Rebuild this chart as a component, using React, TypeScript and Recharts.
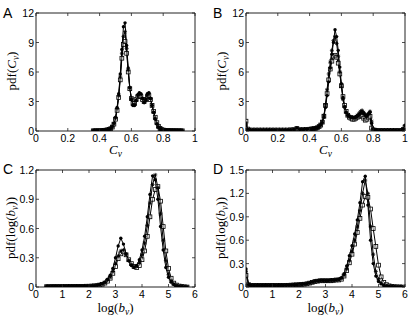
import React from "react";
import { LineChart, Line, XAxis, YAxis } from "recharts";

// Panel A: pdf of C_v
const aX = [
  0.36, 0.37, 0.38, 0.39, 0.4, 0.41, 0.42, 0.43, 0.44, 0.45,
  0.46, 0.47, 0.48, 0.49, 0.5, 0.51, 0.52, 0.53, 0.54, 0.55,
  0.56, 0.57, 0.58, 0.59, 0.6, 0.61, 0.62, 0.63, 0.64, 0.65,
  0.66, 0.67, 0.68, 0.69, 0.7, 0.71, 0.72, 0.73, 0.74, 0.75,
  0.76, 0.77, 0.78, 0.79, 0.8, 0.81, 0.82, 0.83, 0.84, 0.85,
  0.86, 0.87, 0.88, 0.89, 0.9, 0.91, 0.92,
];
const aDots = [
  0.02, 0.02, 0.03, 0.03, 0.04, 0.05, 0.06, 0.08, 0.1, 0.13,
  0.18, 0.27, 0.45, 0.8, 1.4, 2.4, 3.8, 5.8, 8.3, 10.6,
  11.0, 8.7, 6.4, 4.4, 3.2, 2.6, 2.6, 3.1, 3.7, 3.9,
  3.8, 3.3, 2.9, 3.2, 3.8, 3.9, 3.3, 2.6, 1.9, 1.2,
  0.7, 0.38, 0.2, 0.12, 0.08, 0.06, 0.05, 0.04, 0.04, 0.03,
  0.03, 0.03, 0.02, 0.02, 0.02, 0.02, 0.02,
];
const aStars = [
  0.02, 0.02, 0.02, 0.03, 0.04, 0.04, 0.05, 0.07, 0.09, 0.12,
  0.17, 0.26, 0.42, 0.75, 1.3, 2.3, 3.6, 5.5, 7.9, 9.6,
  10.1, 8.4, 6.2, 4.4, 3.3, 2.7, 2.7, 3.1, 3.6, 3.8,
  3.7, 3.3, 2.9, 3.1, 3.6, 3.8, 3.3, 2.6, 1.9, 1.3,
  0.78, 0.42, 0.22, 0.13, 0.09, 0.06, 0.05, 0.04, 0.04, 0.03,
  0.03, 0.03, 0.02, 0.02, 0.02, 0.02, 0.02,
];
const aSquares = [
  0.02, 0.02, 0.02, 0.03, 0.03, 0.04, 0.05, 0.07, 0.09, 0.12,
  0.16, 0.24, 0.4, 0.7, 1.2, 2.1, 3.4, 5.2, 7.4, 8.8,
  9.1, 7.9, 6.0, 4.3, 3.3, 2.8, 2.8, 3.2, 3.5, 3.6,
  3.5, 3.2, 3.0, 3.2, 3.5, 3.6, 3.2, 2.6, 2.0, 1.4,
  0.85, 0.48, 0.26, 0.15, 0.1, 0.07, 0.05, 0.05, 0.04, 0.04,
  0.03, 0.03, 0.03, 0.02, 0.02, 0.02, 0.02,
];

// Panel B: pdf of C_v
const bX = [
  0, 0.01, 0.02, 0.04, 0.06, 0.08, 0.1, 0.12, 0.14, 0.16, 0.18,
  0.2, 0.22, 0.24, 0.26, 0.28, 0.3, 0.32, 0.34, 0.36, 0.38, 0.4,
  0.41, 0.42, 0.43, 0.44, 0.45, 0.46, 0.47, 0.48, 0.49, 0.5,
  0.51, 0.52, 0.53, 0.54, 0.55, 0.56, 0.57, 0.58, 0.59, 0.6,
  0.61, 0.62, 0.63, 0.64, 0.65, 0.66, 0.67, 0.68, 0.69, 0.7,
  0.71, 0.72, 0.73, 0.74, 0.75, 0.76, 0.77, 0.78, 0.79, 0.8,
  0.81, 0.82,
  0.84, 0.86, 0.88, 0.9, 0.92, 0.94, 0.96, 0.98, 0.99, 1.0,
];
const bDots = [
  0.6, 0.15, 0.1, 0.1, 0.1, 0.1, 0.1, 0.1, 0.1, 0.1, 0.1,
  0.1, 0.1, 0.1, 0.1, 0.12, 0.15, 0.3, 0.15, 0.15, 0.18, 0.2,
  0.2, 0.22, 0.25, 0.3, 0.35, 0.45, 0.6, 0.85, 1.4, 2.4,
  3.6, 5.0, 6.4, 7.8, 9.0, 10.3, 9.6, 8.2, 6.5, 4.8,
  3.4, 2.5, 1.9, 1.6, 1.5, 1.4, 1.4, 1.35, 1.4, 1.5,
  1.6, 1.8, 1.9, 1.8, 1.6, 1.5, 1.7, 1.9, 0.8, 0.2,
  0.1, 0.08,
  0.06, 0.06, 0.06, 0.06, 0.06, 0.06, 0.06, 0.08, 0.2, 0.6,
];
const bStars = [
  0.8, 0.18, 0.1, 0.1, 0.1, 0.1, 0.1, 0.1, 0.1, 0.1, 0.1,
  0.1, 0.1, 0.1, 0.1, 0.12, 0.14, 0.28, 0.14, 0.15, 0.17, 0.19,
  0.21, 0.24, 0.27, 0.31, 0.37, 0.5, 0.7, 1.0, 1.6, 2.7,
  4.2, 5.8, 7.0, 8.2, 9.2, 9.6, 8.9, 7.6, 6.0, 4.5,
  3.2, 2.4, 1.9, 1.6, 1.5, 1.4, 1.4, 1.4, 1.4, 1.6,
  1.8, 2.0, 2.1, 1.9, 1.7, 1.6, 1.8, 2.0, 1.0, 0.2,
  0.1, 0.08,
  0.06, 0.06, 0.06, 0.06, 0.06, 0.06, 0.06, 0.08, 0.18, 0.5,
];
const bSquares = [
  1.0, 0.2, 0.1, 0.1, 0.1, 0.1, 0.1, 0.1, 0.1, 0.1, 0.1,
  0.1, 0.1, 0.1, 0.1, 0.12, 0.14, 0.25, 0.14, 0.14, 0.16, 0.18,
  0.2, 0.22, 0.24, 0.28, 0.34, 0.45, 0.6, 0.9, 1.5, 2.6,
  3.8, 5.2, 6.3, 7.1, 7.6, 7.7, 7.5, 6.9, 5.8, 4.6,
  3.5, 2.6, 2.0, 1.6, 1.4, 1.3, 1.2, 1.2, 1.3, 1.4,
  1.5, 1.6, 1.5, 1.3, 1.1, 1.2, 1.4, 1.5, 0.3, 0.1,
  0.08, 0.07,
  0.06, 0.06, 0.06, 0.06, 0.06, 0.06, 0.06, 0.07, 0.15, 0.4,
];

// Panel C: pdf of log(b_v)
const cX = [
  0.4, 0.5, 0.6, 0.7, 0.8, 0.9, 1.0, 1.1, 1.2, 1.3,
  1.4, 1.5, 1.6, 1.7, 1.8, 1.9, 2.0, 2.1, 2.2,
  2.3, 2.4, 2.5, 2.6, 2.7, 2.8, 2.9, 3.0, 3.1, 3.2,
  3.3, 3.4, 3.5, 3.6, 3.7, 3.8, 3.9, 4.0, 4.1, 4.2,
  4.3, 4.4, 4.5, 4.6, 4.7, 4.8, 4.9, 5.0, 5.1, 5.2,
  5.3, 5.4, 5.5, 5.6, 5.7,
];
const cDots = [
  0.005, 0.005, 0.005, 0.005, 0.005, 0.006, 0.006, 0.006, 0.006, 0.006,
  0.007, 0.007, 0.007, 0.008, 0.008, 0.009, 0.01, 0.012, 0.014,
  0.018, 0.025, 0.035, 0.05, 0.08, 0.12, 0.19, 0.3, 0.42, 0.5,
  0.44, 0.34, 0.27, 0.22, 0.2, 0.22, 0.28, 0.38, 0.52, 0.72,
  0.95, 1.14, 1.1, 0.9, 0.62, 0.38, 0.2, 0.1, 0.05, 0.025,
  0.012, 0.006, 0.003, 0.001, 0,
];
const cStars = [
  0.005, 0.005, 0.005, 0.005, 0.005, 0.005, 0.006, 0.006, 0.006, 0.006,
  0.006, 0.007, 0.007, 0.007, 0.008, 0.008, 0.009, 0.011, 0.013,
  0.016, 0.022, 0.03, 0.045, 0.07, 0.1, 0.16, 0.24, 0.32, 0.37,
  0.38, 0.33, 0.27, 0.23, 0.21, 0.21, 0.25, 0.33, 0.45, 0.63,
  0.86, 1.05, 1.15, 1.02, 0.75, 0.48, 0.27, 0.13, 0.06, 0.03,
  0.015, 0.008, 0.004, 0.002, 0,
];
const cSquares = [
  0.004, 0.004, 0.005, 0.005, 0.005, 0.005, 0.005, 0.006, 0.006, 0.006,
  0.006, 0.006, 0.007, 0.007, 0.007, 0.008, 0.008, 0.01, 0.012,
  0.014, 0.02, 0.028, 0.04, 0.06, 0.09, 0.14, 0.21, 0.29, 0.34,
  0.36, 0.33, 0.28, 0.24, 0.21, 0.2, 0.22, 0.28, 0.37, 0.52,
  0.72, 0.9, 1.0, 1.03, 0.88, 0.62, 0.37, 0.19, 0.09, 0.04,
  0.02, 0.01, 0.005, 0.002, 0,
];

// Panel D: pdf of log(b_v)
const dX = [
  0, 0.1, 0.2, 0.3, 0.4, 0.5, 0.6, 0.7, 0.8, 0.9,
  1.0, 1.1, 1.2, 1.3, 1.4, 1.5, 1.6, 1.7, 1.8, 1.9,
  2.0, 2.1, 2.2, 2.3, 2.4, 2.5, 2.6, 2.7, 2.8, 2.9,
  3.0, 3.1, 3.2, 3.3, 3.4, 3.5, 3.6, 3.7, 3.8, 3.9,
  4.0, 4.1, 4.2, 4.3, 4.4, 4.5, 4.6, 4.7, 4.8, 4.9,
  5.0, 5.1, 5.2, 5.3, 5.4, 5.5, 5.6, 5.7, 5.8, 5.9,
];
const dDots = [
  0.23, 0.03, 0.02, 0.02, 0.02, 0.02, 0.02, 0.02, 0.02, 0.02,
  0.02, 0.02, 0.02, 0.02, 0.02, 0.022, 0.024, 0.026, 0.028, 0.03,
  0.032, 0.035, 0.04, 0.045, 0.055, 0.065, 0.075, 0.08, 0.085, 0.085,
  0.085, 0.085, 0.09, 0.09, 0.095, 0.1, 0.12, 0.17, 0.27, 0.4,
  0.53, 0.68, 0.86, 1.08, 1.35, 1.42, 1.05, 0.6, 0.3, 0.14,
  0.07, 0.04, 0.02, 0.012, 0.008, 0.005, 0.003, 0.002, 0.001, 0,
];
const dStars = [
  0.2, 0.03, 0.02, 0.02, 0.02, 0.02, 0.02, 0.02, 0.02, 0.02,
  0.02, 0.02, 0.02, 0.02, 0.02, 0.021, 0.023, 0.025, 0.027, 0.029,
  0.031, 0.034, 0.038, 0.043, 0.052, 0.062, 0.072, 0.078, 0.082, 0.082,
  0.08, 0.08, 0.085, 0.085, 0.09, 0.095, 0.11, 0.15, 0.23, 0.34,
  0.46, 0.6, 0.77, 0.98, 1.2, 1.37, 1.2, 0.78, 0.42, 0.2,
  0.1, 0.05, 0.025, 0.014, 0.008, 0.005, 0.003, 0.002, 0.001, 0,
];
const dSquares = [
  0.15, 0.03, 0.02, 0.02, 0.02, 0.02, 0.02, 0.02, 0.02, 0.02,
  0.02, 0.02, 0.02, 0.02, 0.02, 0.02, 0.022, 0.024, 0.026, 0.028,
  0.03, 0.033, 0.036, 0.041, 0.05, 0.06, 0.07, 0.075, 0.08, 0.08,
  0.08, 0.08, 0.08, 0.085, 0.09, 0.09, 0.1, 0.14, 0.21, 0.31,
  0.42, 0.55, 0.7, 0.88, 1.05, 1.16, 1.15, 1.0, 0.75, 0.52,
  0.28, 0.13, 0.06, 0.03, 0.015, 0.008, 0.004, 0.002, 0.001, 0,
];

const cvTicks = [0, 0.2, 0.4, 0.6, 0.8, 1];
const cvYTicks = [0, 3, 6, 9, 12];
const logTicks = [0, 1, 2, 3, 4, 5, 6];
const cYTicks = [0, 0.3, 0.6, 0.9, 1.2];
const dYTicks = [0, 0.3, 0.6, 0.9, 1.2, 1.5];

const zip = (x: number[], a: number[], b: number[], c: number[]) =>
  x.map((v, i) => ({ x: v, s1: a[i], s2: b[i], s3: c[i] }));

const TICK_FONT = "'Liberation Sans', Arial, sans-serif";
const TITLE_FONT = "'Liberation Serif', 'Times New Roman', serif";
const AXIS = "#222";

const BottomTick = ({ x, y, payload }: any) => (
  <g>
    <line x1={x} y1={y} x2={x} y2={y - 3} stroke={AXIS} strokeWidth={0.8} />
    <text x={x} y={y + 11} textAnchor="middle" fontSize={10.5} fontFamily={TICK_FONT} fill="#000">
      {String(payload.value)}
    </text>
  </g>
);
const LeftTick = ({ x, y, payload }: any) => (
  <g>
    <line x1={x} y1={y} x2={x + 3} y2={y} stroke={AXIS} strokeWidth={0.8} />
    <text x={x - 2} y={y + 4} textAnchor="end" fontSize={10.5} fontFamily={TICK_FONT} fill="#000">
      {String(payload.value)}
    </text>
  </g>
);
const TopTick = ({ x, y }: any) => (
  <line x1={x} y1={y} x2={x} y2={y + 3} stroke={AXIS} strokeWidth={0.8} />
);
const RightTick = ({ x, y }: any) => (
  <line x1={x} y1={y} x2={x - 3} y2={y} stroke={AXIS} strokeWidth={0.8} />
);

const dotMark = (p: any) => (
  <circle key={p.index} cx={p.cx} cy={p.cy} r={1.7} fill="#000" />
);
const starMark = (p: any) => (
  <g key={p.index} stroke="#000" strokeWidth={0.8}>
    <line x1={p.cx - 2} y1={p.cy} x2={p.cx + 2} y2={p.cy} />
    <line x1={p.cx} y1={p.cy - 2} x2={p.cx} y2={p.cy + 2} />
    <line x1={p.cx - 1.4} y1={p.cy - 1.4} x2={p.cx + 1.4} y2={p.cy + 1.4} />
    <line x1={p.cx - 1.4} y1={p.cy + 1.4} x2={p.cx + 1.4} y2={p.cy - 1.4} />
  </g>
);
const squareMark = (p: any) => (
  <rect key={p.index} x={p.cx - 1.9} y={p.cy - 1.9} width={3.8} height={3.8} fill="#fff" fillOpacity={0.4} stroke="#000" strokeWidth={0.8} />
);

type PanelProps = {
  data: any[];
  xDomain: number[];
  xTicks: number[];
  yDomain: number[];
  yTicks: number[];
  left: number;
  top: number;
  margin: { top: number; right: number; bottom: number; left: number };
};

// axes get a 1px size: a zero-sized axis is not drawn at all
const Panel = ({ data, xDomain, xTicks, yDomain, yTicks, left, top, margin }: PanelProps) => (
  <div style={{ position: "absolute", left, top }}>
    <LineChart width={205} height={158} data={data} margin={margin}>
      <XAxis dataKey="x" type="number" domain={xDomain} ticks={xTicks} interval={0} height={1}
        tickSize={0} tickMargin={0} tickLine={false} axisLine={{ stroke: AXIS }} tick={<BottomTick />} allowDataOverflow />
      <XAxis xAxisId="top" orientation="top" dataKey="x" type="number" domain={xDomain} ticks={xTicks} interval={0} height={1}
        tickSize={0} tickMargin={0} tickLine={false} axisLine={{ stroke: AXIS }} tick={<TopTick />} allowDataOverflow />
      <YAxis type="number" domain={yDomain} ticks={yTicks} interval={0} width={1}
        tickSize={0} tickMargin={0} tickLine={false} axisLine={{ stroke: AXIS }} tick={<LeftTick />} allowDataOverflow />
      <YAxis yAxisId="right" orientation="right" type="number" domain={yDomain} ticks={yTicks} interval={0} width={1}
        tickSize={0} tickMargin={0} tickLine={false} axisLine={{ stroke: AXIS }} tick={<RightTick />} allowDataOverflow />
      <Line dataKey="s3" type="linear" stroke="#000" strokeWidth={1} dot={squareMark} isAnimationActive={false} />
      <Line dataKey="s2" type="linear" stroke="#000" strokeWidth={1} dot={starMark} isAnimationActive={false} />
      <Line dataKey="s1" type="linear" stroke="#000" strokeWidth={1} dot={dotMark} isAnimationActive={false} />
    </LineChart>
  </div>
);

const Sub = ({ v }: { v: string }) => (
  <tspan fontStyle="italic" fontSize={9.5} dy={3}>{v}</tspan>
);

const App = () => {
  const topMargin = { top: 12, right: 9, bottom: 26, left: 35 };
  const botMargin = { top: 11, right: 9, bottom: 28, left: 35 };
  return (
    <div style={{ position: "absolute", left: 0, top: 0, width: 415, height: 316, background: "#fff" }}>
      <Panel data={zip(aX, aDots, aStars, aSquares)} xDomain={[0, 1]} xTicks={cvTicks}
        yDomain={[0, 12]} yTicks={cvYTicks} left={0} top={0} margin={topMargin} />
      <Panel data={zip(bX, bDots, bStars, bSquares)} xDomain={[0, 1]} xTicks={cvTicks}
        yDomain={[0, 12]} yTicks={cvYTicks} left={210} top={0} margin={topMargin} />
      <Panel data={zip(cX, cDots, cStars, cSquares)} xDomain={[0, 6]} xTicks={logTicks}
        yDomain={[0, 1.2]} yTicks={cYTicks} left={0} top={158} margin={botMargin} />
      <Panel data={zip(dX, dDots, dStars, dSquares)} xDomain={[0, 6]} xTicks={logTicks}
        yDomain={[0, 1.5]} yTicks={dYTicks} left={210} top={158} margin={botMargin} />
      <svg width={415} height={316} style={{ position: "absolute", left: 0, top: 0, pointerEvents: "none" }}>
        <g fontFamily={TICK_FONT} fontSize={14} fill="#000">
          <text x={3} y={18}>A</text>
          <text x={213} y={18}>B</text>
          <text x={3} y={174}>C</text>
          <text x={213} y={174}>D</text>
        </g>
        <g fontFamily={TITLE_FONT} fontSize={13} fill="#000">
          <text x={115.5} y={154} textAnchor="middle">
            <tspan fontStyle="italic">C</tspan><Sub v="v" />
          </text>
          <text x={325.5} y={154} textAnchor="middle">
            <tspan fontStyle="italic">C</tspan><Sub v="v" />
          </text>
          <text x={115.5} y={311.5} textAnchor="middle">
            log(<tspan fontStyle="italic">b</tspan><Sub v="v" /><tspan dy={-3}>)</tspan>
          </text>
          <text x={325.5} y={311.5} textAnchor="middle">
            log(<tspan fontStyle="italic">b</tspan><Sub v="v" /><tspan dy={-3}>)</tspan>
          </text>
          <text transform="translate(16,71) rotate(-90)" textAnchor="middle">
            pdf(<tspan fontStyle="italic">C</tspan><Sub v="v" /><tspan dy={-3}>)</tspan>
          </text>
          <text transform="translate(226,71) rotate(-90)" textAnchor="middle">
            pdf(<tspan fontStyle="italic">C</tspan><Sub v="v" /><tspan dy={-3}>)</tspan>
          </text>
          <text transform="translate(15,228) rotate(-90)" textAnchor="middle">
            pdf(log(<tspan fontStyle="italic">b</tspan><Sub v="v" /><tspan dy={-3}>))</tspan>
          </text>
          <text transform="translate(225,228) rotate(-90)" textAnchor="middle">
            pdf(log(<tspan fontStyle="italic">b</tspan><Sub v="v" /><tspan dy={-3}>))</tspan>
          </text>
        </g>
      </svg>
    </div>
  );
};

export default App;
